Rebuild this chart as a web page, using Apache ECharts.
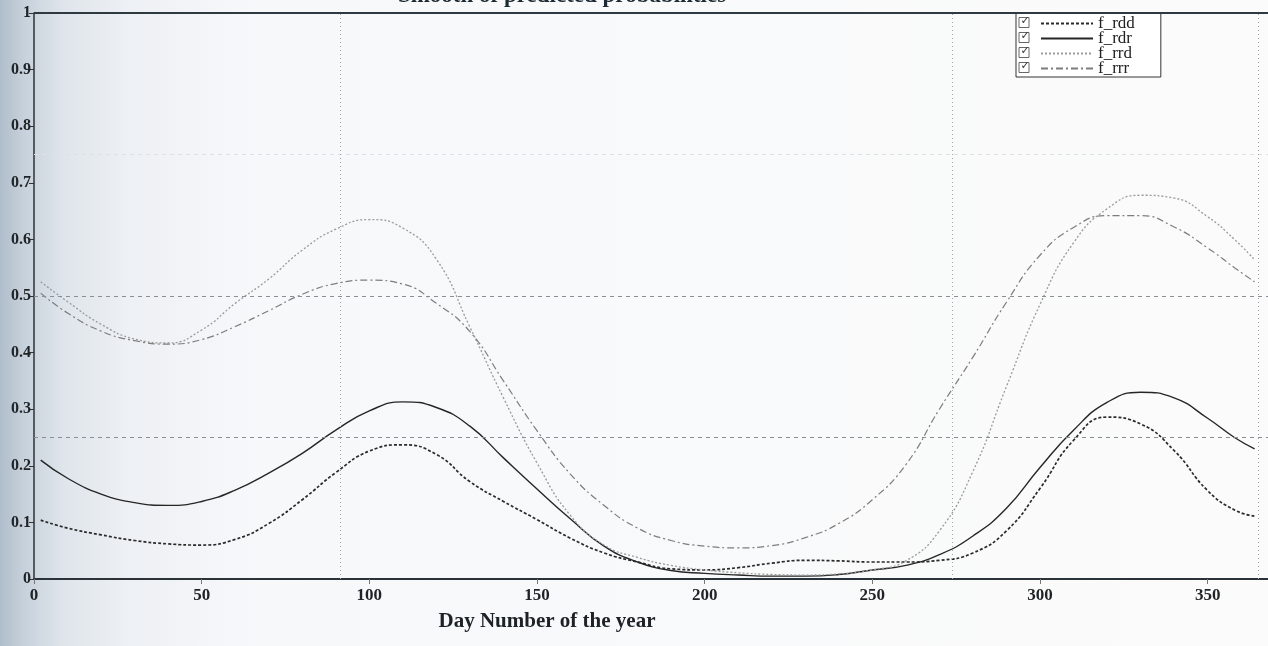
<!DOCTYPE html>
<html>
<head>
<meta charset="utf-8">
<script src="https://cdn.jsdelivr.net/npm/echarts@6/dist/echarts.min.js"></script>
<style>
html,body{margin:0;padding:0;background:#fff;}
#chart{width:1268px;height:646px;}
</style>
</head>
<body>
<div id="chart"></div>
<script>
// ---- data ----
const days = [2,10,20,30,40,50,60,70,80,90,100,110,120,130,140,150,160,170,180,190,200,210,220,230,240,250,260,270,280,290,300,310,320,330,340,350,358,364];
const f_rdd = [0.104,0.090,0.078,0.068,0.062,0.060,0.070,0.098,0.140,0.188,0.226,0.237,0.220,0.172,0.137,0.105,0.072,0.046,0.030,0.018,0.016,0.020,0.028,0.033,0.032,0.030,0.030,0.033,0.046,0.085,0.160,0.245,0.286,0.274,0.227,0.156,0.122,0.111];
const f_rdr = [0.210,0.178,0.150,0.135,0.130,0.137,0.157,0.187,0.222,0.263,0.297,0.313,0.303,0.270,0.214,0.159,0.106,0.058,0.030,0.015,0.010,0.007,0.005,0.005,0.008,0.016,0.024,0.043,0.076,0.125,0.197,0.263,0.312,0.330,0.320,0.284,0.250,0.230];
const f_rrd = [0.525,0.490,0.450,0.424,0.417,0.440,0.487,0.530,0.581,0.618,0.635,0.620,0.565,0.445,0.320,0.205,0.112,0.060,0.038,0.024,0.016,0.011,0.008,0.007,0.009,0.016,0.032,0.085,0.190,0.340,0.485,0.594,0.654,0.678,0.673,0.640,0.600,0.564];
const f_rrr = [0.505,0.470,0.438,0.421,0.415,0.423,0.446,0.474,0.503,0.522,0.528,0.521,0.487,0.437,0.350,0.262,0.185,0.130,0.090,0.068,0.058,0.055,0.059,0.073,0.098,0.140,0.202,0.300,0.392,0.489,0.572,0.621,0.642,0.642,0.622,0.585,0.550,0.525];
const seriesNames = ['f_rdd','f_rdr','f_rrd','f_rrr'];
const xTicks = [0,50,100,150,200,250,300,350];
const hRefLines = [0.25,0.5];
const vRefLines = [91.25,273.75,365];
const titleText = 'Smooth of predicted probabilities';
const xName = 'Day Number of the year';

const pair = arr => days.map((d,i)=>[d,arr[i]]);
const chart = echarts.init(document.getElementById('chart'), null, {renderer:'canvas'});
const serif = '"Liberation Serif","DejaVu Serif",serif';

const styles = [
  {color:'#2a2a2a', width:1.7, type:[3,2]},
  {color:'#262626', width:1.4, type:'solid'},
  {color:'#9a9a9a', width:1.3, type:[2,2]},
  {color:'#7d7d7d', width:1.2, type:[7,3,2,3]}
];
const datasets = [f_rdd,f_rdr,f_rrd,f_rrr];

const series = datasets.map((arr,i)=>({
  name: seriesNames[i], type:'line', smooth:0.5, symbol:'none',
  data: pair(arr), lineStyle: styles[i], itemStyle:{color:styles[i].color},
  z: 3
}));
series.push({
  type:'line', data:[], silent:true, symbol:'none',
  markLine:{
    silent:true, symbol:'none', label:{show:false}, animation:false,
    data:[
      ...hRefLines.map(v=>({yAxis:v, lineStyle:{color:'#8a8f96', type:[4,4], width:1}})),
      {yAxis:0.75, lineStyle:{color:'#dde1e5', type:[4,4], width:1}},
      ...vRefLines.map(v=>({xAxis:v, lineStyle:{color:'#a0a4aa', type:[1,3], width:1}})),
      {yAxis:1, lineStyle:{color:'#2f3a40', type:'solid', width:2}}
    ]
  }
});

const rowY = [22.5,37.5,52.5,67.5];
const checkboxes = rowY.map(y=>({
  type:'group', x:1019, y:y-5, z:100, children:[
    {type:'rect', z:100, shape:{x:0,y:0,width:10,height:10}, style:{fill:'none', stroke:'#666', lineWidth:1}},
    {type:'text', z:100, x:1.5, y:-1.5, style:{text:'✓', font:'bold 11px "DejaVu Sans"', fill:'#333'}}
  ]
}));

chart.setOption({
  animation:false,
  backgroundColor: new echarts.graphic.LinearGradient(0,0,1,0,[
    {offset:0, color:'#b0bdcb'},
    {offset:0.02, color:'#c8d2dc'},
    {offset:0.05, color:'#dfe5eb'},
    {offset:0.10, color:'#edf0f4'},
    {offset:0.20, color:'#f7f8fa'},
    {offset:1, color:'#fbfbfb'}
  ]),
  grid:{left:34, right:0, top:13, bottom:67, containLabel:false},
  xAxis:{
    type:'value', min:0, max:368, interval:50,
    axisLine:{show:true, lineStyle:{color:'#2b3338', width:2}},
    axisTick:{show:true, customValues:xTicks, length:5, lineStyle:{color:'#777', width:1}},
    axisLabel:{customValues:xTicks, color:'#1f2326', fontFamily:serif, fontSize:17, fontWeight:'bold', margin:8},
    splitLine:{show:false}
  },
  yAxis:{
    type:'value', min:0, max:1, interval:0.1,
    axisLine:{show:true, lineStyle:{color:'#2b3338', width:1.5}},
    axisTick:{show:true, length:5, lineStyle:{color:'#333', width:1}},
    axisLabel:{color:'#1f2326', fontFamily:serif, fontSize:16, fontWeight:'bold', margin:3},
    splitLine:{show:false}
  },
  legend:{
    orient:'vertical', left:1016, top:13,
    data:seriesNames,
    itemWidth:52, itemHeight:10, itemGap:-2,
    padding:[2,26,0,24],
    borderColor:'#333', borderWidth:1, backgroundColor:'#fff',
    itemStyle:{opacity:0},
    textStyle:{fontFamily:serif, fontSize:17, color:'#222'},
    selectedMode:false
  },
  graphic:[
    {type:'text', x:562, y:-15, z:100, style:{text:titleText, font:'bold 23px '+serif, fill:'#1d2a33', textAlign:'center'}},
    {type:'text', x:547, y:622, z:100, style:{text:xName, font:'bold 21px '+serif, fill:'#1d2226', textAlign:'center', textVerticalAlign:'middle'}},
    ...checkboxes
  ],
  series: series
});
</script>
</body>
</html>
